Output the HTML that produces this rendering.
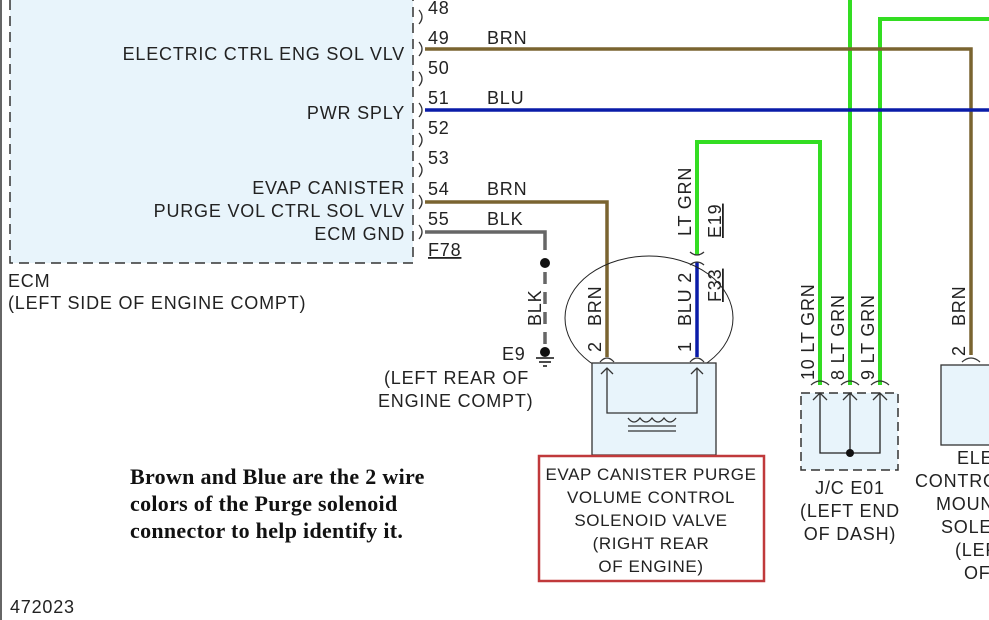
<!DOCTYPE html>
<html><head><meta charset="utf-8"><style>
html,body{margin:0;padding:0;background:#fff}
svg{display:block}
text{font-family:"Liberation Sans",sans-serif;font-size:18px;letter-spacing:0.8px;fill:#222}
.c{font-size:17px;letter-spacing:0.6px}
.s{font-family:"Liberation Serif",serif;font-size:22px;font-weight:bold;letter-spacing:0.3px;fill:#111}
</style></head><body>
<svg width="989" height="620" viewBox="0 0 989 620" xmlns="http://www.w3.org/2000/svg">
<rect x="10" y="-5" width="403" height="268" fill="#e8f4fb"/>
<line x1="1" y1="0" x2="1" y2="620" stroke="#333" stroke-width="1.5"/>
<path d="M10,0 V263 H413 V0" fill="none" stroke="#333" stroke-width="1.5" stroke-dasharray="10,6"/>
<g>
<text x="428" y="14">48</text><text x="428" y="44">49</text><text x="428" y="74">50</text>
<text x="428" y="104">51</text><text x="428" y="134">52</text><text x="428" y="164">53</text>
<text x="428" y="195">54</text><text x="428" y="225">55</text>
<text x="428" y="256" text-decoration="underline">F78</text>
</g>
<g fill="none" stroke="#333" stroke-width="1.3">
<path d="M419,10 q6,7 0,14"/><path d="M419,42 q6,7 0,14"/><path d="M419,72 q6,7 0,14"/>
<path d="M419,103 q6,7 0,14"/><path d="M419,133 q6,7 0,14"/><path d="M419,163 q6,7 0,14"/>
<path d="M419,195 q6,7 0,14"/><path d="M419,225 q6,7 0,14"/>
</g>
<g text-anchor="end">
<text x="405" y="60">ELECTRIC CTRL ENG SOL VLV</text>
<text x="405" y="119">PWR SPLY</text>
<text x="405" y="194">EVAP CANISTER</text>
<text x="405" y="217">PURGE VOL CTRL SOL VLV</text>
<text x="405" y="240">ECM GND</text>
</g>
<text x="8" y="287">ECM</text>
<text x="8" y="309">(LEFT SIDE OF ENGINE COMPT)</text>
<path d="M850,0 V385" stroke="#33dd22" stroke-width="4" fill="none"/>
<path d="M989,19 H880 V385" stroke="#33dd22" stroke-width="4" fill="none"/>
<path d="M425,49 H971 V355" stroke="#7a6430" stroke-width="3.5" fill="none"/>
<path d="M425,110 H989" stroke="#0a1ca8" stroke-width="3.5" fill="none"/>
<path d="M425,202 H607 V357" stroke="#7a6430" stroke-width="3.5" fill="none"/>
<path d="M425,232 H545 V250" stroke="#666" stroke-width="3.5" fill="none"/>
<path d="M545,272 V345" stroke="#666" stroke-width="3.5" fill="none" stroke-dasharray="12,8"/>
<circle cx="545" cy="263" r="5" fill="#111"/>
<circle cx="545" cy="352" r="5" fill="#111"/>
<path d="M536,358 h18 M539,362 h12 M543,366 h4" stroke="#111" stroke-width="1.5"/>
<path d="M697,255 V142 H820 V385" stroke="#33dd22" stroke-width="4" fill="none"/>
<path d="M697,262 V357" stroke="#0a1ca8" stroke-width="3.5" fill="none"/>
<path d="M690,252 q7,6 14,0 M690,265 q7,-6 14,0" fill="none" stroke="#333" stroke-width="1.3"/>
<g>
<text x="487" y="44">BRN</text><text x="487" y="104">BLU</text>
<text x="487" y="195">BRN</text><text x="487" y="225">BLK</text>
<text x="502" y="360">E9</text>
<text x="384" y="384">(LEFT REAR OF</text>
<text x="378" y="407">ENGINE COMPT)</text>
</g>
<g>
<text transform="translate(541,326) rotate(-90)">BLK</text>
<text transform="translate(601,326) rotate(-90)">BRN</text>
<text transform="translate(601,352) rotate(-90)">2</text>
<text transform="translate(691,326) rotate(-90)">BLU 2</text>
<text transform="translate(691,352) rotate(-90)">1</text>
<text transform="translate(691,236) rotate(-90)">LT GRN</text>
<text transform="translate(721,238) rotate(-90)" text-decoration="underline">E19</text>
<text transform="translate(721,302) rotate(-90)" text-decoration="underline">F33</text>
<text transform="translate(814,380) rotate(-90)">10  LT GRN</text>
<text transform="translate(844,380) rotate(-90)">8  LT GRN</text>
<text transform="translate(874,380) rotate(-90)">9  LT GRN</text>
<text transform="translate(965,326) rotate(-90)">BRN</text>
<text transform="translate(965,356) rotate(-90)">2</text>
</g>
<ellipse cx="649" cy="318" rx="84" ry="62" fill="none" stroke="#222" stroke-width="1"/>
<rect x="592" y="363" width="124" height="92" fill="#e8f4fb" stroke="#333" stroke-width="1.3"/>
<path d="M607,368 V413 H697 V368" fill="none" stroke="#333" stroke-width="1.3"/>
<path d="M600,362 q7,-8 14,0 M690,362 q7,-8 14,0" fill="none" stroke="#333" stroke-width="1.3"/>
<path d="M601,374 l6,-6 l6,6 M691,374 l6,-6 l6,6" fill="none" stroke="#333" stroke-width="1.3"/>
<path d="M628,418 q6,8 12,0 q6,8 12,0 q6,8 12,0 q6,8 12,0" fill="none" stroke="#333" stroke-width="1.3"/>
<path d="M628,426 h48 M628,431 h48" stroke="#333" stroke-width="1.3"/>
<rect x="539" y="456" width="225" height="125" fill="none" stroke="#c0393b" stroke-width="2.5"/>
<g text-anchor="middle">
<text class="c" x="651" y="480">EVAP CANISTER PURGE</text>
<text class="c" x="651" y="503">VOLUME CONTROL</text>
<text class="c" x="651" y="526">SOLENOID VALVE</text>
<text class="c" x="651" y="549">(RIGHT REAR</text>
<text class="c" x="651" y="572">OF ENGINE)</text>
</g>
<rect x="801" y="393" width="97" height="77" fill="#e8f4fb" stroke="#333" stroke-width="1.5" stroke-dasharray="9,5"/>
<path d="M820,394 V453 H880 V394 M850,394 V453" fill="none" stroke="#222" stroke-width="1.3"/>
<circle cx="850" cy="453" r="4" fill="#111"/>
<path d="M811,385 q9,-8 18,0 M841,385 q9,-8 18,0 M871,385 q9,-8 18,0" fill="none" stroke="#333" stroke-width="1.3"/>
<path d="M813,400 l7,-7 l7,7 M843,400 l7,-7 l7,7 M873,400 l7,-7 l7,7" fill="none" stroke="#333" stroke-width="1.3"/>
<g text-anchor="middle">
<text x="850" y="494">J/C E01</text>
<text x="850" y="517">(LEFT END</text>
<text x="850" y="540">OF DASH)</text>
</g>
<rect x="941" y="365" width="60" height="80" fill="#e8f4fb" stroke="#333" stroke-width="1.3"/>
<path d="M962,362 q9,-8 18,0" fill="none" stroke="#333" stroke-width="1.3"/>
<g>
<text x="957" y="464">ELE</text><text x="915" y="487">CONTRO</text>
<text x="936" y="510">MOUN</text><text x="941" y="533">SOLE</text>
<text x="955" y="556">(LEF</text><text x="964" y="579">OF</text>
</g>
<text class="s" x="130" y="484">Brown and Blue are the 2 wire</text>
<text class="s" x="130" y="511">colors of the Purge solenoid</text>
<text class="s" x="130" y="538">connector to help identify it.</text>
<text x="10" y="613">472023</text>
</svg>
</body></html>
